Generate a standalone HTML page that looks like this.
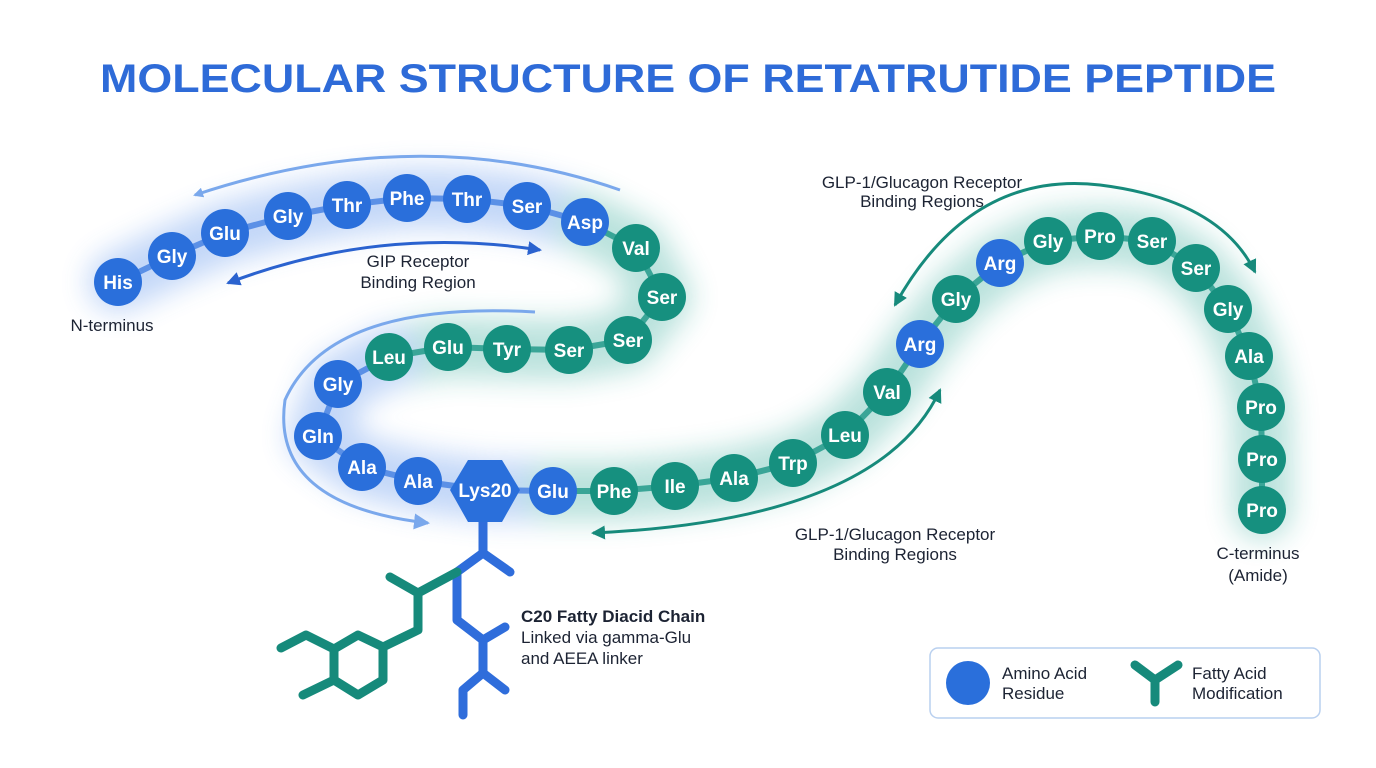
<!DOCTYPE html>
<html><head><meta charset="utf-8"><style>
body{margin:0;background:#fff;}
svg{display:block;font-family:"Liberation Sans",sans-serif;}
</style></head><body>
<svg width="1376" height="768" viewBox="0 0 1376 768" xmlns="http://www.w3.org/2000/svg">
<defs>
<filter id="glow" x="-20%" y="-20%" width="140%" height="140%"><feGaussianBlur stdDeviation="14"/></filter>
<marker id="ab" markerWidth="10" markerHeight="10" refX="8" refY="5" orient="auto" markerUnits="userSpaceOnUse"><path d="M0,0 L10,5 L0,10 z" fill="#7aa8ec"/></marker>
<marker id="abd" markerWidth="14" markerHeight="14" refX="12" refY="7" orient="auto-start-reverse" markerUnits="userSpaceOnUse"><path d="M0,0 L14,7 L0,14 z" fill="#2a62cf"/></marker>
<marker id="at" markerWidth="14" markerHeight="14" refX="12" refY="7" orient="auto-start-reverse" markerUnits="userSpaceOnUse"><path d="M0,0 L14,7 L0,14 z" fill="#168a7b"/></marker>
<marker id="alb" markerWidth="16" markerHeight="16" refX="14" refY="8" orient="auto" markerUnits="userSpaceOnUse"><path d="M0,0 L16,8 L0,16 z" fill="#7aa8ec"/></marker>
</defs>
<rect width="1376" height="768" fill="#fff"/>
<text x="688" y="92" text-anchor="middle" font-size="40" font-weight="bold" fill="#2e6bd8" textLength="1176" lengthAdjust="spacingAndGlyphs">MOLECULAR STRUCTURE OF RETATRUTIDE PEPTIDE</text>

<g filter="url(#glow)" fill="none" stroke-linecap="round" stroke-linejoin="round" opacity="0.3">
<path d="M118,282 L172,256 L225,233 L288,216 L347,205 L407,198 L467,199 L527,206 L585,222" stroke="#3b7de8" stroke-width="60"/>
<path d="M585,222 L636,248 L662,297 L628,340 L569,350 L507,349 L448,347 L389,357" stroke="#1fa08e" stroke-width="60"/>
<path d="M389,357 L338,384 L318,436 L362,467 L418,481 L485,490 L553,491" stroke="#3b7de8" stroke-width="60"/>
<path d="M553,491 L614,491 L675,486 L734,478 L793,463 L845,435 L887,392 L920,344 L956,299 L1000,263 L1048,241 L1100,236 L1152,241 L1196,268 L1228,309 L1249,356 L1261,407 L1262,459 L1262,510" stroke="#1fa08e" stroke-width="60"/>
</g>

<g fill="none" stroke-width="6" stroke-linejoin="round">
<path d="M118,282 L172,256 L225,233 L288,216 L347,205 L407,198 L467,199 L527,206 L585,222" stroke="#5b90e6"/>
<path d="M585,222 L636,248 L662,297 L628,340 L569,350 L507,349 L448,347 L389,357" stroke="#3aa597"/>
<path d="M389,357 L338,384 L318,436 L362,467 L418,481 L485,490 L553,491" stroke="#5b90e6"/>
<path d="M553,491 L614,491 L675,486 L734,478 L793,463 L845,435 L887,392 L920,344 L956,299 L1000,263 L1048,241 L1100,236 L1152,241 L1196,268 L1228,309 L1249,356 L1261,407 L1262,459 L1262,510" stroke="#3aa597"/>
</g>

<g fill="none">
<path d="M620,190 Q420,120 195,195" stroke="#7aa8ec" stroke-width="3" marker-end="url(#ab)"/>
<path d="M228,283 Q380,225 540,250" stroke="#2a62cf" stroke-width="3" marker-start="url(#abd)" marker-end="url(#abd)"/>
<path d="M535,312 Q330,300 285,400 Q270,505 428,523" stroke="#7aa8ec" stroke-width="3" marker-end="url(#alb)"/>
<path d="M895,305 Q970,170 1100,185 Q1220,200 1255,272" stroke="#168a7b" stroke-width="3" marker-start="url(#at)" marker-end="url(#at)"/>
<path d="M593,533 Q880,520 940,390" stroke="#168a7b" stroke-width="3" marker-start="url(#at)" marker-end="url(#at)"/>
</g>

<g fill="none" stroke-linecap="round" stroke-linejoin="round" stroke-width="9">
<path d="M483,520 L483,553 L510,572 M483,553 L457,572 L457,620 L483,640 L505,627 M483,640 L483,673 L505,690 M483,673 L463,690 L463,715" stroke="#2f6ddb"/>
<path d="M457,572 L418,593 L390,577 M418,593 L418,630 L383,647 M334,649 L306,635 L281,648 M334,680 L303,695" stroke="#168a7b"/>
<path d="M383,647 L358,635 L334,649 L334,680 L358,695 L383,680 Z" stroke="#168a7b"/>
</g>

<g font-size="19" font-weight="bold" fill="#fff" text-anchor="middle">
<g fill="#2a6fdb">
<circle cx="118" cy="282" r="24"/><circle cx="172" cy="256" r="24"/><circle cx="225" cy="233" r="24"/><circle cx="288" cy="216" r="24"/><circle cx="347" cy="205" r="24"/><circle cx="407" cy="198" r="24"/><circle cx="467" cy="199" r="24"/><circle cx="527" cy="206" r="24"/><circle cx="585" cy="222" r="24"/>
<circle cx="338" cy="384" r="24"/><circle cx="318" cy="436" r="24"/><circle cx="362" cy="467" r="24"/><circle cx="418" cy="481" r="24"/><circle cx="553" cy="491" r="24"/>
<circle cx="920" cy="344" r="24"/><circle cx="1000" cy="263" r="24"/>
<polygon points="468,460 502,460 520,490 502,522 468,522 450,490"/>
</g>
<g fill="#16907f">
<circle cx="636" cy="248" r="24"/><circle cx="662" cy="297" r="24"/><circle cx="628" cy="340" r="24"/><circle cx="569" cy="350" r="24"/><circle cx="507" cy="349" r="24"/><circle cx="448" cy="347" r="24"/><circle cx="389" cy="357" r="24"/>
<circle cx="614" cy="491" r="24"/><circle cx="675" cy="486" r="24"/><circle cx="734" cy="478" r="24"/><circle cx="793" cy="463" r="24"/><circle cx="845" cy="435" r="24"/><circle cx="887" cy="392" r="24"/>
<circle cx="956" cy="299" r="24"/><circle cx="1048" cy="241" r="24"/><circle cx="1100" cy="236" r="24"/><circle cx="1152" cy="241" r="24"/><circle cx="1196" cy="268" r="24"/><circle cx="1228" cy="309" r="24"/><circle cx="1249" cy="356" r="24"/><circle cx="1261" cy="407" r="24"/><circle cx="1262" cy="459" r="24"/><circle cx="1262" cy="510" r="24"/>
</g>
<text x="118" y="289">His</text><text x="172" y="263">Gly</text><text x="225" y="240">Glu</text><text x="288" y="223">Gly</text><text x="347" y="212">Thr</text><text x="407" y="205">Phe</text><text x="467" y="206">Thr</text><text x="527" y="213">Ser</text><text x="585" y="229">Asp</text>
<text x="636" y="255">Val</text><text x="662" y="304">Ser</text><text x="628" y="347">Ser</text><text x="569" y="357">Ser</text><text x="507" y="356">Tyr</text><text x="448" y="354">Glu</text><text x="389" y="364">Leu</text>
<text x="338" y="391">Gly</text><text x="318" y="443">Gln</text><text x="362" y="474">Ala</text><text x="418" y="488">Ala</text><text x="485" y="497">Lys20</text><text x="553" y="498">Glu</text>
<text x="614" y="498">Phe</text><text x="675" y="493">Ile</text><text x="734" y="485">Ala</text><text x="793" y="470">Trp</text><text x="845" y="442">Leu</text><text x="887" y="399">Val</text><text x="920" y="351">Arg</text>
<text x="956" y="306">Gly</text><text x="1000" y="270">Arg</text><text x="1048" y="248">Gly</text><text x="1100" y="243">Pro</text><text x="1152" y="248">Ser</text><text x="1196" y="275">Ser</text><text x="1228" y="316">Gly</text><text x="1249" y="363">Ala</text><text x="1261" y="414">Pro</text><text x="1262" y="466">Pro</text><text x="1262" y="517">Pro</text>
</g>

<g font-size="17" fill="#1c2333" text-anchor="middle">
<text x="112" y="331">N-terminus</text>
<text x="418" y="267">GIP Receptor</text><text x="418" y="288">Binding Region</text>
<text x="922" y="188">GLP-1/Glucagon Receptor</text><text x="922" y="207">Binding Regions</text>
<text x="895" y="540">GLP-1/Glucagon Receptor</text><text x="895" y="560">Binding Regions</text>
<text x="1258" y="559">C-terminus</text><text x="1258" y="581">(Amide)</text>
</g>
<g font-size="17" fill="#1c2333">
<text x="521" y="622" font-weight="bold">C20 Fatty Diacid Chain</text>
<text x="521" y="643">Linked via gamma-Glu</text>
<text x="521" y="664">and AEEA linker</text>
</g>

<rect x="930" y="648" width="390" height="70" rx="8" fill="#fff" stroke="#b9d0ef" stroke-width="1.5"/>
<circle cx="968" cy="683" r="22" fill="#2a6fdb"/>
<g font-size="17" fill="#1c2333"><text x="1002" y="679">Amino Acid</text><text x="1002" y="699">Residue</text>
<text x="1192" y="679">Fatty Acid</text><text x="1192" y="699">Modification</text></g>
<path d="M1135,665 L1155,680 L1178,665 M1155,680 L1155,702" fill="none" stroke="#168a7b" stroke-width="9" stroke-linecap="round" stroke-linejoin="round"/>
</svg>
</body></html>
